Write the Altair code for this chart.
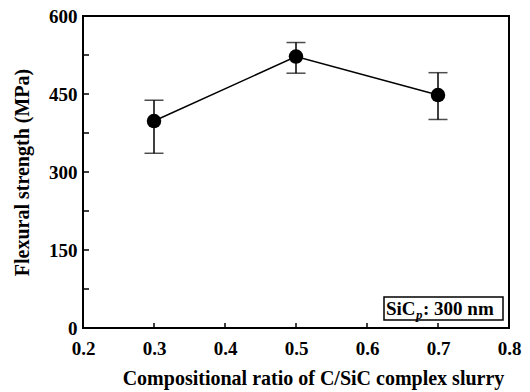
import altair as alt
import pandas as pd

ratios = [0.3, 0.5, 0.7]
strength = [398, 522, 448]
err_low = [336, 490, 401]
err_high = [438, 549, 491]

y_ticks = [75, 150, 225, 300, 375, 450, 525]
x_ticks = [0.3, 0.4, 0.5, 0.6, 0.7]

FONT = "Liberation Serif"

df = pd.DataFrame({"ratio": ratios, "strength": strength, "lo": err_low, "hi": err_high})
ytk = pd.DataFrame({"v": y_ticks})
xtk = pd.DataFrame({"v": x_ticks})

xscale = alt.Scale(domain=[0.2, 0.8], nice=False, zero=False)
yscale = alt.Scale(domain=[0, 600], nice=False)

xenc = alt.X("ratio:Q", scale=xscale,
             axis=alt.Axis(values=[0.2, 0.3, 0.4, 0.5, 0.6, 0.7, 0.8], format=".1f",
                           tickSize=0, domain=False, grid=False, labelPadding=11,
                           labelFont=FONT, labelFontSize=19, labelFontWeight="bold",
                           labelColor="black", labelFlush=False,
                           title="Compositional ratio of C/SiC complex slurry",
                           titleFont=FONT, titleFontSize=20, titleFontWeight="bold",
                           titleColor="black", titleX=230, titleY=56,
                           titleBaseline="alphabetic"))
yenc = alt.Y("strength:Q", scale=yscale,
             axis=alt.Axis(values=[0, 150, 300, 450, 600], tickSize=0, domain=False,
                           grid=False, labelPadding=6, labelFont=FONT, labelFontSize=19,
                           labelFontWeight="bold", labelColor="black", labelFlush=False,
                           title="Flexural strength (MPa)", titleFont=FONT,
                           titleFontSize=20, titleFontWeight="bold", titleColor="black",
                           titlePadding=16))

base = alt.Chart(df)

line = base.mark_line(color="black", strokeWidth=1.5).encode(x=xenc, y=yenc)
bars = base.mark_rule(color="black", strokeWidth=1.5).encode(
    x="ratio:Q", y="lo:Q", y2="hi:Q")
cap_hi = base.mark_tick(color="black", orient="horizontal", size=19, thickness=1.5).encode(
    x="ratio:Q", y="hi:Q")
cap_lo = base.mark_tick(color="black", orient="horizontal", size=19, thickness=1.5).encode(
    x="ratio:Q", y="lo:Q")
pts = base.mark_point(filled=True, color="black", size=210, opacity=1, shape="circle").encode(
    x="ratio:Q", y="strength:Q")

yt = alt.Chart(ytk).mark_rule(color="black", strokeWidth=1.5).encode(
    y=alt.Y("v:Q", scale=yscale), x=alt.value(0), x2=alt.value(6))
xt = alt.Chart(xtk).mark_rule(color="black", strokeWidth=1.5).encode(
    x=alt.X("v:Q", scale=xscale), y=alt.value(312), y2=alt.value(307))

box = alt.Chart(pd.DataFrame({"a": [0]})).mark_rect(
    fill="white", stroke="black", strokeWidth=1.5).encode(
    x=alt.value(301), x2=alt.value(420), y=alt.value(281), y2=alt.value(304))
t1 = alt.Chart(pd.DataFrame({"t": ["SiC"]})).mark_text(
    font=FONT, fontSize=19, fontWeight="bold", align="left", baseline="alphabetic",
    color="black").encode(text="t:N", x=alt.value(303), y=alt.value(299))
t2 = alt.Chart(pd.DataFrame({"t": ["p"]})).mark_text(
    font=FONT, fontSize=13, fontStyle="italic", fontWeight="bold", align="left",
    baseline="alphabetic", color="black").encode(text="t:N", x=alt.value(333), y=alt.value(303))
t3 = alt.Chart(pd.DataFrame({"t": [": 300 nm"]})).mark_text(
    font=FONT, fontSize=19, fontWeight="bold", align="left", baseline="alphabetic",
    color="black").encode(text="t:N", x=alt.value(340), y=alt.value(299))

chart = alt.layer(line, bars, cap_hi, cap_lo, pts, yt, xt, box, t1, t2, t3).properties(
    width=426, height=312, autosize="none", background="white",
    padding={"left": 75, "top": 8, "right": 13, "bottom": 64},
).configure_view(stroke="black", strokeWidth=2)

chart.save("out.html", embed_options={"renderer": "svg", "actions": False})
